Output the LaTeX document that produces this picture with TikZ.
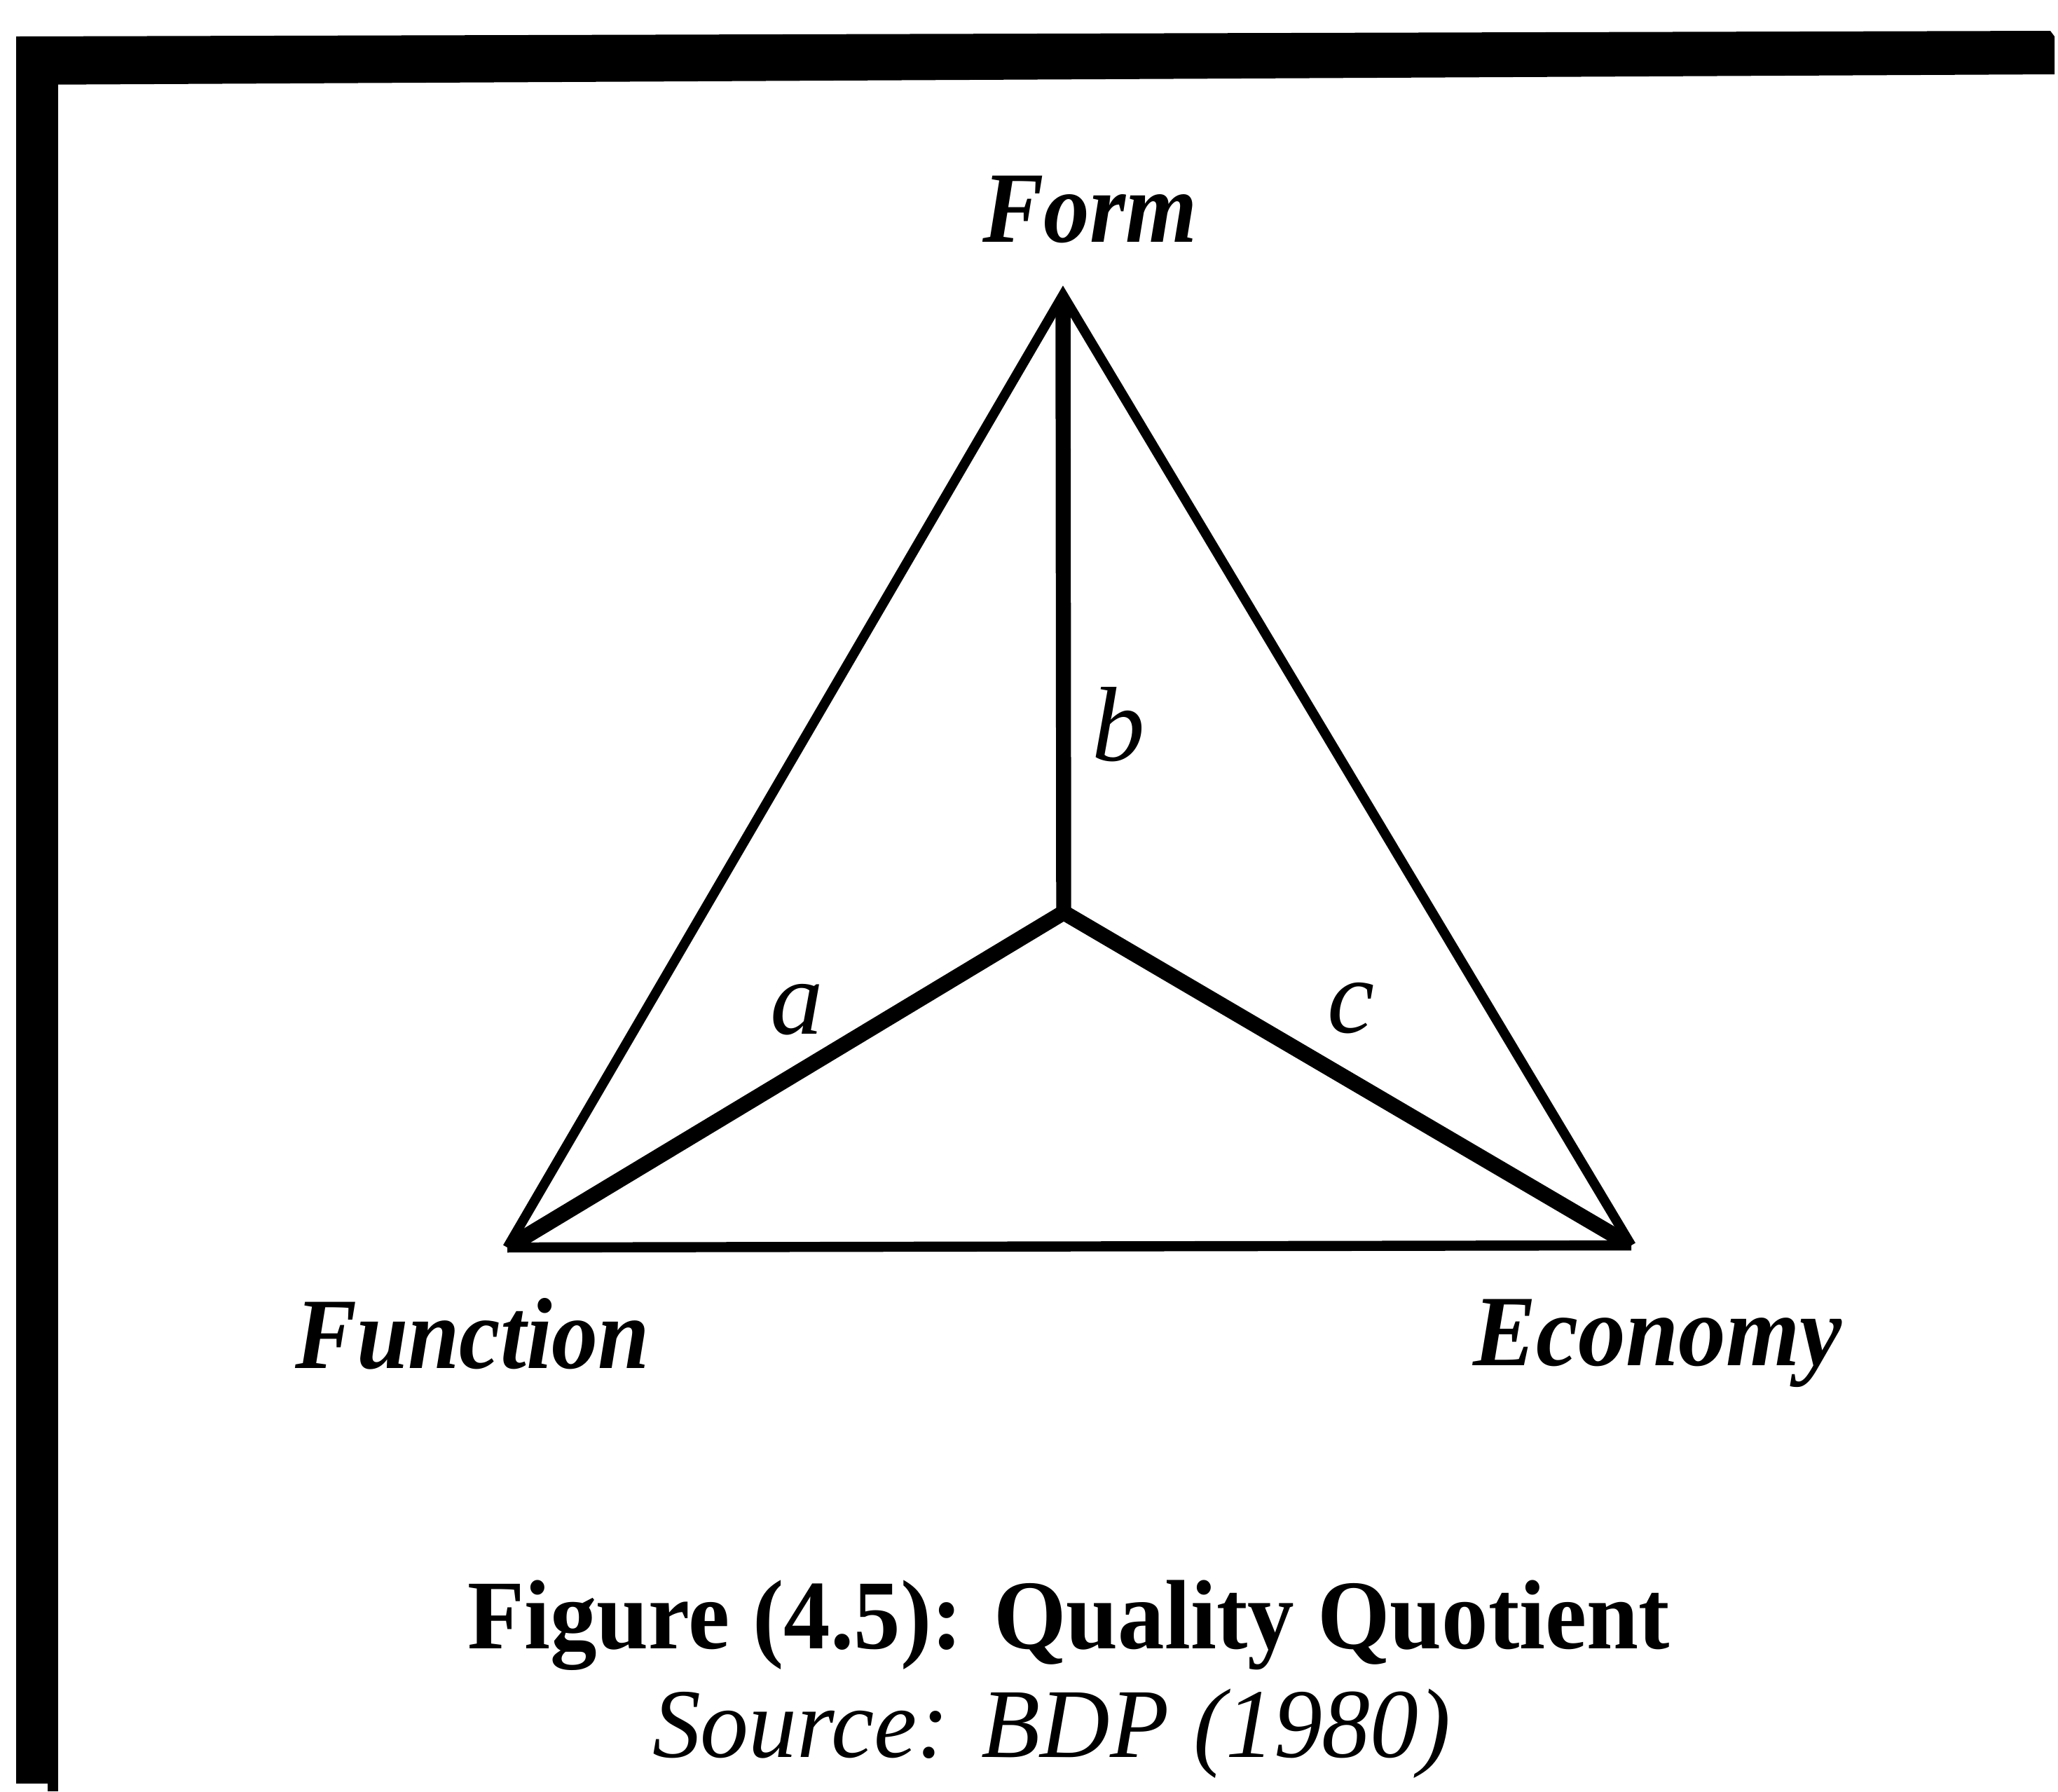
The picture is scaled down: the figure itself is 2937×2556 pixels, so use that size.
\documentclass[tikz,border=0pt]{standalone}
\usepackage{fontspec}
\setmainfont{Liberation Serif}
\usepackage{graphicx}
\newcommand{\fitw}[2]{\resizebox{#1}{\height}{#2}}
\begin{document}
\begin{tikzpicture}[x=0.01cm,y=-0.01cm,
  thinedge/.style={line width=3.9pt, line join=miter},
  baseedge/.style={line width=4.1pt},
  spoke/.style={line width=6.3pt, line join=miter},
  lbl/.style={inner sep=0pt, outer sep=0pt},
  framebar/.style={fill=black, draw=none}]
\useasboundingbox (0,0) rectangle (2937,2556);
\fill[white] (0,0) rectangle (2937,2556);
% frame
\path[framebar] (23,52) -- (2926,44) -- (2932,52) -- (2932,106) -- (23,121) -- cycle;
\path[framebar] (23,52) rectangle (83,2545);
\path[framebar] (68,2545) rectangle (83,2556);
% vertices
\coordinate (form) at (1517,421);
\coordinate (func) at (724,1780);
\coordinate (econ) at (2328,1777);
\coordinate (ctr) at (1518,1302);
% spokes, clipped to the triangle
\begin{scope}
\clip (func) -- (form) -- (econ) -- cycle;
\draw[spoke] (func) -- (ctr) -- (econ);
\draw[line width=6.1pt] (ctr) -- (form);
\end{scope}
% triangle
\draw[thinedge] (func) -- (form) -- (econ);
\draw[baseedge] (func) -- (econ);
% labels
\node[lbl, anchor=base west] (formlbl) at (1402,345) {\fitw{3.06cm}{\fontsize{41}{41}\selectfont\bfseries\itshape Form}};
\node[lbl, anchor=base west] (funclbl) at (421,1952) {\fitw{5.06cm}{\fontsize{41}{41}\selectfont\bfseries\itshape Function}};
\node[lbl, anchor=base west] (econlbl) at (2102,1948) {\fitw{5.26cm}{\fontsize{41}{41}\selectfont\bfseries\itshape Economy}};
\node[lbl, anchor=base] (la) at (1137,1475) {\fontsize{43}{43}\selectfont\itshape a};
\node[lbl, anchor=base] (lb) at (1596,1085) {\fontsize{43}{43}\selectfont\itshape b};
\node[lbl, anchor=base] (lc) at (1928,1473) {\fontsize{43}{43}\selectfont\itshape c};
\node[lbl, anchor=base west] (caption) at (667,2352) {\fitw{17.15cm}{\fontsize{40}{40}\selectfont\bfseries Figure (4.5): Quality Quotient}};
\node[lbl, anchor=base west] (source) at (931,2507) {\fitw{11.39cm}{\fontsize{40}{40}\selectfont\itshape Source: BDP (1980)}};
\end{tikzpicture}
\end{document}
